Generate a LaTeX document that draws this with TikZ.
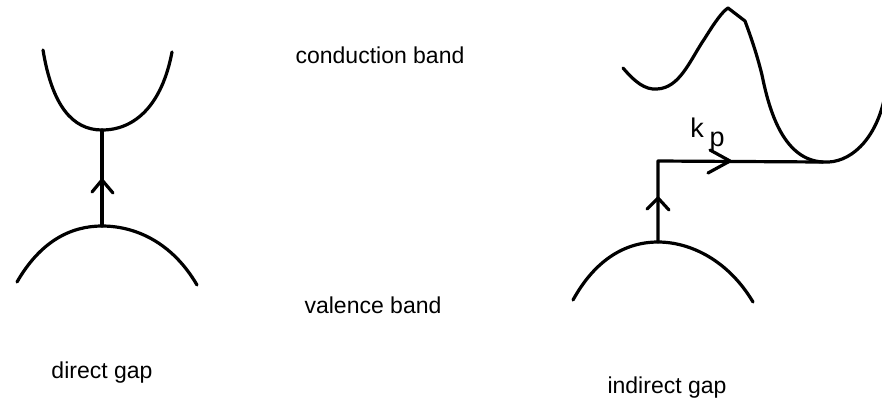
\documentclass[tikz,border=0pt]{standalone}
\usepackage{fontspec}
\setmainfont{Liberation Sans}
\begin{document}
\begin{tikzpicture}[x=1pt,y=-1pt,
  band/.style={line width=3.2pt,line cap=round,line join=round},
  lbl/.style={font=\fontsize{23}{27}\selectfont,anchor=base,inner sep=0pt},
  klbl/.style={font=\fontsize{27}{30}\selectfont,anchor=base,inner sep=0pt}]
\useasboundingbox (0,0) rectangle (882,408);
% direct gap
\coordinate (cmin) at (102,130);
\coordinate (vmax) at (102,226);
\draw[band] (43,50) .. controls (52,105) and (72,130) .. (cmin) .. controls (135,130) and (162,105) .. (172,52);
\draw[band] (17,282) .. controls (40,242) and (70,226) .. (vmax) .. controls (135,226) and (172,242) .. (197,285);
\draw[band] (vmax) -- (cmin);
\draw[band] (92,192) -- (102,180) -- (113,193);
% indirect gap
\coordinate (cmin2) at (823,162);
\coordinate (vmax2) at (658,242);
\coordinate (corner) at (658,161);
\draw[band] (623,68) .. controls (635,82) and (645,90) .. (657,89) .. controls (680,88) and (690,60) .. (705,38) .. controls (715,22) and (722,12) .. (728,8) -- (745,21) .. controls (752,40) and (757,55) .. (762,75) .. controls (770,115) and (785,160) .. (cmin2) .. controls (850,164) and (875,140) .. (884,100);
\draw[band] (573,300) .. controls (595,260) and (625,242) .. (vmax2) .. controls (690,242) and (728,260) .. (753,302);
\draw[band] (vmax2) -- (corner) -- (cmin2);
\draw[band] (647,209) -- (658,198) -- (669,210);
\draw[band] (710,150) -- (730,161) -- (708,173);
% labels
\node[lbl] (cb) at (380,63) {conduction band};
\node[lbl] (vb) at (373,313) {valence band};
\node[lbl] (dg) at (102,378) {direct gap};
\node[lbl] (ig) at (667,393) {indirect gap};
\node[klbl] (k) at (697,137) {k};
\node[klbl] (p) at (717,146) {p};
\end{tikzpicture}
\end{document}
